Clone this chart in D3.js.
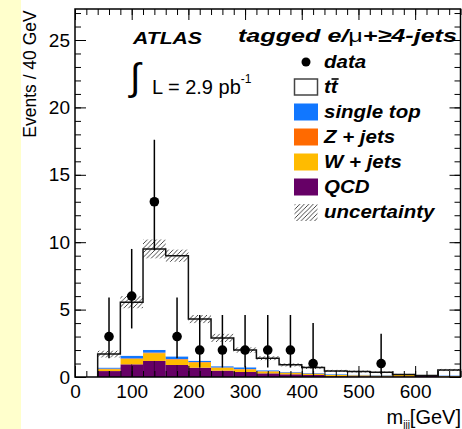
<!DOCTYPE html>
<html>
<head>
<meta charset="utf-8">
<script src="https://cdn.jsdelivr.net/npm/d3@7"></script>
<style>
	body { margin: 0; background: #fff; }
	svg text { font-family: "Liberation Sans", Arial, Helvetica, sans-serif; }
</style>
</head>
<body>
<svg id="chart" width="462" height="429"></svg>
<script>
	// bin edges in GeV (40 GeV bins)
	var binEdges = [40, 80, 120, 160, 200, 240, 280, 320, 360, 400, 440, 480, 520, 560, 600, 640, 680];

	// stacked backgrounds, events per bin
	var qcd   = [0.44, 0.94, 1.19, 0.89, 0.69, 0.47, 0.37, 0.27, 0.20, 0.15, 0.06, 0.05, 0.04, 0.05, 0.08, 0.03];
	var wjets = [0.14, 0.40, 0.57, 0.40, 0.38, 0.21, 0.19, 0.14, 0.11, 0.09, 0.09, 0.07, 0.06, 0.10, 0.02, 0.04];
	var zjets = [0.04, 0.04, 0.05, 0.04, 0.04, 0.03, 0.03, 0.02, 0.02, 0.02, 0.01, 0.01, 0.01, 0.01, 0.00, 0.01];
	var stop  = [0.08, 0.20, 0.20, 0.20, 0.10, 0.09, 0.13, 0.07, 0.04, 0.04, 0.05, 0.04, 0.03, 0.01, 0.00, 0.04];
	var ttbar = [1.00, 3.97, 7.49, 7.47, 3.09, 2.10, 1.28, 0.90, 0.53, 0.40, 0.24, 0.23, 0.21, 0.02, 0.01, 0.40];
	// half width of the hatched uncertainty band
	var uncert = [0.25, 0.45, 0.70, 0.45, 0.30, 0.30, 0.20, 0.15, 0.12, 0.10, 0.08, 0.08, 0.06, 0.04, 0.03, 0.08];

	// data points with asymmetric error bars
	var dataX  = [60, 100, 140, 180, 220, 260, 300, 340, 380, 420, 540];
	var dataY  = [3, 6, 13, 3, 2, 2, 2, 2, 2, 1, 1];
	var dataLo = [1.4, 3.6, 9.4, 1.4, 0.7, 0.7, 0.7, 0.7, 0.7, 0.2, 0.2];
	var dataHi = [5.9, 9.5, 17.6, 5.9, 4.6, 4.6, 4.6, 4.6, 4.6, 4.0, 3.2];

	// axis ticks
	var xMajor = [0, 100, 200, 300, 400, 500, 600];
	var yMajor = [0, 5, 10, 15, 20, 25];

	var keys = ['qcd', 'wjets', 'zjets', 'stop', 'ttbar'];
	var colors = { qcd: '#660066', wjets: '#ffbb00', zjets: '#ff6a00', stop: '#1177ff', ttbar: '#ffffff' };

	var legendItems = [
		{ label: 'data', type: 'dot' },
		{ label: 'tt', type: 'tt' },
		{ label: 'single top', type: 'box', color: colors.stop },
		{ label: 'Z + jets', type: 'box', color: colors.zjets },
		{ label: 'W + jets', type: 'box', color: colors.wjets },
		{ label: 'QCD', type: 'box', color: colors.qcd },
		{ label: 'uncertainty', type: 'hatch' }
	];

	var svg = d3.select('#chart');
	var font = '"Liberation Sans", Arial, Helvetica, sans-serif';

	// pale strip on the left
	svg.append('rect').attr('x', 0).attr('y', 0).attr('width', 21).attr('height', 429).attr('fill', '#ffffcc');

	var x = d3.scaleLinear().domain([0, 680]).range([75, 460.5]);
	var y = d3.scaleLinear().domain([0, 27.3]).range([377, 9]);

	// hatch pattern for the uncertainty band
	var defs = svg.append('defs');
	defs.append('pattern')
		.attr('id', 'hatch')
		.attr('patternUnits', 'userSpaceOnUse')
		.attr('width', 4.5).attr('height', 4.5)
		.append('path')
		.attr('d', 'M0,4.5 L4.5,0 M-1,1 L1,-1 M3.5,5.5 L5.5,3.5')
		.attr('stroke', '#333').attr('stroke-width', 0.9);

	// table for the stack
	var table = binEdges.slice(0, -1).map(function (lo, i) {
		return { lo: lo, hi: binEdges[i + 1], qcd: qcd[i], wjets: wjets[i], zjets: zjets[i], stop: stop[i], ttbar: ttbar[i] };
	});
	var series = d3.stack().keys(keys)(table);
	var totals = series[series.length - 1].map(function (d) { return d[1]; });

	var plot = svg.append('g');

	// stacked layers
	plot.selectAll('.layer')
		.data(series)
		.enter().append('g')
		.attr('class', 'layer')
		.attr('fill', function (s) { return colors[s.key]; })
		.selectAll('rect')
		.data(function (s) { return s; })
		.enter().append('rect')
		.attr('x', function (d) { return x(d.data.lo); })
		.attr('width', function (d) { return x(d.data.hi) - x(d.data.lo); })
		.attr('y', function (d) { return y(d[1]); })
		.attr('height', function (d) { return Math.max(0, y(d[0]) - y(d[1])); });

	// fine 20 GeV divisions visible in the QCD fill
	plot.append('g').selectAll('line')
		.data(table)
		.enter().append('line')
		.attr('x1', function (d) { return x((d.lo + d.hi) / 2); })
		.attr('x2', function (d) { return x((d.lo + d.hi) / 2); })
		.attr('y1', y(0))
		.attr('y2', function (d) { return y(d.qcd); })
		.attr('stroke', '#330033').attr('stroke-width', 0.8);

	// uncertainty band around the total
	plot.append('g').selectAll('rect')
		.data(table)
		.enter().append('rect')
		.attr('x', function (d) { return x(d.lo); })
		.attr('width', function (d) { return x(d.hi) - x(d.lo); })
		.attr('y', function (d, i) { return y(totals[i] + uncert[i]); })
		.attr('height', function (d, i) { return y(Math.max(0, totals[i] - uncert[i])) - y(totals[i] + uncert[i]); })
		.attr('fill', 'url(#hatch)');

	// total outline as a step line
	var pts = [[binEdges[0], 0]];
	table.forEach(function (d, i) { pts.push([d.lo, totals[i]]); });
	pts.push([binEdges[binEdges.length - 1], totals[totals.length - 1]]);
	pts.push([binEdges[binEdges.length - 1], 0]);
	plot.append('path')
		.attr('d', d3.line()
			.x(function (d) { return x(d[0]); })
			.y(function (d) { return y(d[1]); })
			.curve(d3.curveStepAfter)(pts))
		.attr('fill', 'none').attr('stroke', '#111').attr('stroke-width', 1.5);

	// data
	var pts2 = dataX.map(function (v, i) { return { x: v, y: dataY[i], lo: dataLo[i], hi: dataHi[i] }; });
	var dg = plot.append('g');
	dg.selectAll('line')
		.data(pts2)
		.enter().append('line')
		.attr('x1', function (d) { return x(d.x); })
		.attr('x2', function (d) { return x(d.x); })
		.attr('y1', function (d) { return y(d.lo); })
		.attr('y2', function (d) { return y(d.hi); })
		.attr('stroke', '#000').attr('stroke-width', 1.5);
	dg.selectAll('circle')
		.data(pts2)
		.enter().append('circle')
		.attr('cx', function (d) { return x(d.x); })
		.attr('cy', function (d) { return y(d.y); })
		.attr('r', 4.8)
		.attr('fill', '#000');

	// axes, ROOT style ticks on all four sides pointing inwards
	function clean(g) {
		g.select('.domain').remove();
		g.selectAll('line').attr('stroke', '#000');
		g.selectAll('text').attr('font-size', 19).attr('font-family', font).attr('fill', '#000');
	}
	var xMinor = d3.range(0, 681, 20), yMinor = d3.range(0, 28, 1);

	svg.append('g').attr('transform', 'translate(0,' + y(0) + ')')
		.call(d3.axisBottom(x).tickValues(xMinor).tickSize(-6).tickFormat('')).call(clean);
	svg.append('g').attr('transform', 'translate(0,' + y(0) + ')')
		.call(d3.axisBottom(x).tickValues(xMajor).tickSize(-11).tickPadding(8).tickFormat(d3.format('d'))).call(clean);
	svg.append('g').attr('transform', 'translate(0,' + y.range()[1] + ')')
		.call(d3.axisTop(x).tickValues(xMinor).tickSize(-6).tickFormat('')).call(clean);
	svg.append('g').attr('transform', 'translate(0,' + y.range()[1] + ')')
		.call(d3.axisTop(x).tickValues(xMajor).tickSize(-11).tickFormat('')).call(clean);

	svg.append('g').attr('transform', 'translate(' + x(0) + ',0)')
		.call(d3.axisLeft(y).tickValues(yMinor).tickSize(-6).tickFormat('')).call(clean);
	svg.append('g').attr('transform', 'translate(' + x(0) + ',0)')
		.call(d3.axisLeft(y).tickValues(yMajor).tickSize(-11).tickPadding(5).tickFormat(d3.format('d'))).call(clean);
	svg.append('g').attr('transform', 'translate(' + x.range()[1] + ',0)')
		.call(d3.axisRight(y).tickValues(yMinor).tickSize(-6).tickFormat('')).call(clean);
	svg.append('g').attr('transform', 'translate(' + x.range()[1] + ',0)')
		.call(d3.axisRight(y).tickValues(yMajor).tickSize(-11).tickFormat('')).call(clean);

	// frame
	svg.append('rect')
		.attr('x', x(0)).attr('y', y.range()[1])
		.attr('width', x.range()[1] - x(0)).attr('height', y(0) - y.range()[1])
		.attr('fill', 'none').attr('stroke', '#000').attr('stroke-width', 1.5);

	// axis titles
	svg.append('text')
		.attr('transform', 'translate(36,74) rotate(-90)')
		.attr('text-anchor', 'middle')
		.attr('font-size', 17.5)
		.text('Events / 40 GeV');

	var xt = svg.append('text')
		.attr('x', 461).attr('y', 424)
		.attr('text-anchor', 'end')
		.attr('font-size', 20);
	xt.append('tspan').text('m');
	xt.append('tspan').attr('font-size', 10).attr('dy', 4).text('jjj');
	xt.append('tspan').attr('dy', -4).text('[GeV]');

	// stretch a text element horizontally to a measured width
	function stretch(sel, w) {
		sel.attr('textLength', w).attr('lengthAdjust', 'spacingAndGlyphs');
	}

	// labels
	var atlas = svg.append('text')
		.attr('x', 133).attr('y', 44)
		.attr('font-size', 17).attr('font-weight', 'bold').attr('font-style', 'italic')
		.text('ATLAS');
	stretch(atlas, 69);

	svg.append('text')
		.attr('x', 130).attr('y', 90)
		.attr('font-family', '"DejaVu Serif", serif')
		.attr('font-size', 38)
		.text('\u222B');
	var lumi = svg.append('text')
		.attr('x', 152).attr('y', 94)
		.attr('font-size', 20);
	lumi.append('tspan').text('L = 2.9 pb');
	lumi.append('tspan').attr('font-size', 12).attr('dy', -11).text('-1');

	var title = svg.append('text')
		.attr('x', 238).attr('y', 42)
		.attr('font-size', 19).attr('font-weight', 'bold').attr('font-style', 'italic');
	title.append('tspan').text('tagged e/');
	title.append('tspan').attr('font-weight', 'normal').attr('font-style', 'normal').text('\u03BC');
	title.append('tspan').text('+\u22654-jets');
	stretch(title, 219);

	// legend
	var leg = svg.append('g');
	legendItems.forEach(function (it, i) {
		var cy = 62 + i * 25;
		if (it.type === 'dot') {
			leg.append('circle').attr('cx', 306).attr('cy', cy).attr('r', 4.5).attr('fill', '#000');
		} else if (it.type === 'tt') {
			leg.append('rect').attr('x', 294.5).attr('y', cy - 8).attr('width', 23).attr('height', 16)
				.attr('fill', '#fff').attr('stroke', '#444').attr('stroke-width', 1.5);
		} else if (it.type === 'hatch') {
			leg.append('rect').attr('x', 294.5).attr('y', cy - 8).attr('width', 23).attr('height', 17)
				.attr('fill', 'url(#hatch)');
		} else {
			leg.append('rect').attr('x', 294).attr('y', cy - 8.5).attr('width', 24).attr('height', 17)
				.attr('fill', it.color);
		}
		var t = leg.append('text')
			.attr('x', 324).attr('y', cy + 6)
			.attr('font-size', 17.5).attr('font-weight', 'bold').attr('font-style', 'italic')
			.text(it.label);
		var w = t.node().getComputedTextLength();
		stretch(t, w * 1.17);
		if (it.type === 'tt') {
			// bar over the second t
			leg.append('line')
				.attr('x1', 324 + w * 1.17 * 0.55).attr('x2', 324 + w * 1.17 + 1)
				.attr('y1', cy - 8).attr('y2', cy - 8)
				.attr('stroke', '#000').attr('stroke-width', 1.6);
		}
	});
</script>
</body>
</html>
